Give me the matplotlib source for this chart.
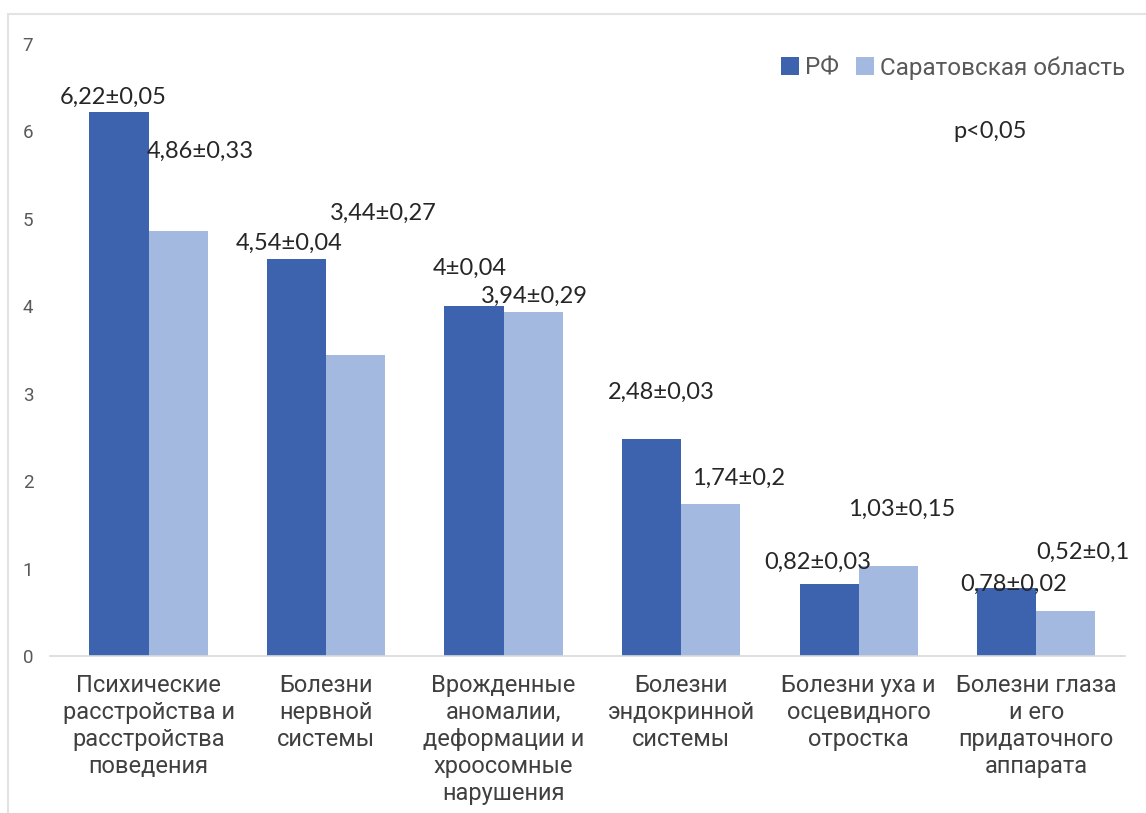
import matplotlib
matplotlib.use("Agg")
import matplotlib.pyplot as plt
from matplotlib.patches import Rectangle
import numpy as np

categories = [
    "Психические\nрасстройства и\nрасстройства\nповедения",
    "Болезни\nнервной\nсистемы",
    "Врожденные\nаномалии,\nдеформации и\nхроосомные\nнарушения",
    "Болезни\nэндокринной\nсистемы",
    "Болезни уха и\nосцевидного\nотростка",
    "Болезни глаза\nи его\nпридаточного\nаппарата",
]
rf_values = [6.22, 4.54, 4.00, 2.48, 0.82, 0.78]
sar_values = [4.86, 3.44, 3.94, 1.74, 1.03, 0.52]
rf_labels = ["6,22±0,05", "4,54±0,04", "4±0,04", "2,48±0,03", "0,82±0,03", "0,78±0,02"]
sar_labels = ["4,86±0,33", "3,44±0,27", "3,94±0,29", "1,74±0,2", "1,03±0,15", "0,52±0,1"]
series_names = ["РФ", "Саратовская область"]
yticks = [0, 1, 2, 3, 4, 5, 6, 7]

# label offsets (pixels, relative to bar top centre) as in the reference
rf_off = [(-5.5, 15), (-7.5, 16), (-4.5, 38), (9.5, 47), (-11.5, 22), (6.5, 3)]
sar_off = [(22.5, 80), (27.5, 142), (1.5, 15), (27.5, 26), (13.5, 57), (17.5, 58)]

DARK = "#3D63AE"
LIGHT = "#A3B9E0"

dpi = 100
fig = plt.figure(figsize=(11.46, 8.13), dpi=dpi)
ax = fig.add_axes([50 / 1146, 1 - 656 / 813, (1125 - 50) / 1146, (656 - 44) / 813])

x = np.arange(len(categories))
w = 0.333
b1 = ax.bar(x - w / 2, rf_values, w, color=DARK, label=series_names[0])
b2 = ax.bar(x + w / 2, sar_values, w, color=LIGHT, label=series_names[1])

ax.set_ylim(0, 7)
ax.set_xlim(-0.555, 5.5)
ax.set_yticks(yticks)
ax.set_yticklabels([str(t) for t in yticks], fontsize=13.5, color="#595959", family="Roboto")
ax.set_xticks(x)
ax.set_xticklabels(categories, fontsize=17, color="#404040", family="Roboto", linespacing=1.22, va="top")
ax.tick_params(axis="both", length=0)
ax.tick_params(axis="x", pad=13)
ax.tick_params(axis="y", pad=12)
for s in ["top", "right", "left"]:
    ax.spines[s].set_visible(False)
ax.spines["bottom"].set_color("#D9D9D9")
ax.spines["bottom"].set_linewidth(1.2)

k = 72 / dpi
for bars, labels, offs in [(b1, rf_labels, rf_off), (b2, sar_labels, sar_off)]:
    for bar, lab, (dx, dy) in zip(bars, labels, offs):
        ax.annotate(lab, (bar.get_x() + bar.get_width() / 2, bar.get_height()),
                    xytext=(dx * k, dy * k), textcoords="offset points",
                    ha="center", va="center", fontsize=17, color="#262626", family="Lato")

leg = ax.legend(loc="upper right", bbox_to_anchor=(1.012, 1.0), ncol=2, frameon=False,
                prop={"family": "Roboto", "size": 17.5}, handlelength=0.75, handleheight=0.75,
                handletextpad=0.25, columnspacing=0.7, borderaxespad=0.1)
for t in leg.get_texts():
    t.set_color("#595959")

ax.text(990 / 1146, 1 - 131 / 813, "p<0,05", transform=fig.transFigure, ha="center", va="center",
        fontsize=17, color="#262626", family="Lato")

# light frame around chart
fig.patches.append(Rectangle((8 / 1146, -0.01), 1.2, 1 - 14 / 813 + 0.01, transform=fig.transFigure,
                             fill=False, edgecolor="#E3E3E3", linewidth=1.5))

fig.savefig("out.png", dpi=dpi)
